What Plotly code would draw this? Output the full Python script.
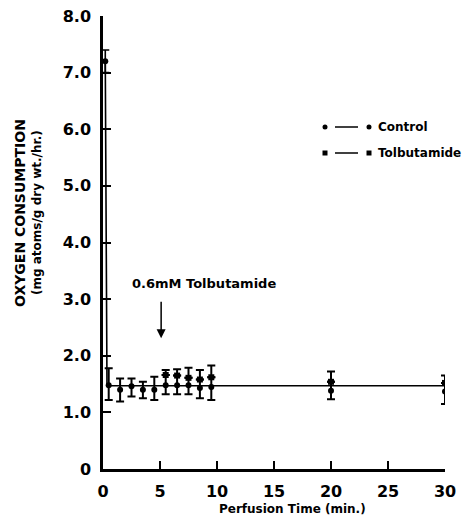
import plotly.graph_objects as go

# ---- data ----
time_min = [0.5, 1.5, 2.5, 3.5, 4.5, 5.5, 6.5, 7.5, 8.5, 9.5, 20, 30]
control = [1.48, 1.40, 1.46, 1.40, 1.40, 1.48, 1.48, 1.48, 1.43, 1.45, 1.38, 1.37]
control_err_up = [0.30, 0.20, 0.14, 0.14, 0.23, 0.18, 0.17, 0.13, 0.15, 0.17, 0.16, 0.15]
control_err_down = [0.26, 0.21, 0.18, 0.15, 0.18, 0.16, 0.16, 0.16, 0.18, 0.23, 0.15, 0.22]

tol_time = [5.5, 6.5, 7.5, 8.5, 9.5, 20, 30]
tolbutamide = [1.66, 1.65, 1.61, 1.58, 1.62, 1.54, 1.52]
tol_err_up = [0.09, 0.11, 0.18, 0.17, 0.21, 0.18, 0.13]

peak_time = [0.2]
peak_value = [7.2]
peak_err = [0.2]

mean_line_x = [0.2, 0.35, 30]
mean_line_y = [7.2, 1.47, 1.47]

x_ticks = [0, 5, 10, 15, 20, 25, 30]
y_ticks = [0, 1, 2, 3, 4, 5, 6, 7, 8]
y_tick_labels = ["0", "1.0", "2.0", "3.0", "4.0", "5.0", "6.0", "7.0", "8.0"]

FONT = "DejaVu Sans"
BLACK = "black"

# page body has an 8px margin; the figure is sized to fit inside the window
OFF = 8
W, H = 471 - 2 * OFF, 527 - 2 * OFF

fig = go.Figure()

fig.add_trace(go.Scatter(x=mean_line_x, y=mean_line_y, mode="lines",
                         line=dict(color=BLACK, width=1.6), hoverinfo="skip"))

fig.add_trace(go.Scatter(
    x=time_min, y=control, mode="markers",
    marker=dict(symbol="circle", size=6, color=BLACK),
    error_y=dict(type="data", array=control_err_up, arrayminus=control_err_down,
                 symmetric=False, color=BLACK, thickness=2, width=4),
))

fig.add_trace(go.Scatter(
    x=tol_time, y=tolbutamide, mode="markers",
    marker=dict(symbol="square", size=6, color=BLACK),
    error_y=dict(type="data", array=tol_err_up, arrayminus=[0] * len(tol_err_up),
                 symmetric=False, color=BLACK, thickness=2, width=4),
))

fig.add_trace(go.Scatter(
    x=peak_time, y=peak_value, mode="markers",
    marker=dict(symbol="circle", size=6, color=BLACK),
    error_y=dict(type="data", array=peak_err, color=BLACK, thickness=1.6, width=4),
))

# Plot area in window pixels
L, R, T, B = 103, 445, 16, 469
def px(x):
    return (x - L) / (R - L)
def py(y):
    return (B - y) / (B - T)

shapes = []
annotations = []
# legend rows
for row_y, sym, label in [(127, "circle", "Control"), (153, "square", "Tolbutamide")]:
    for mx in (325, 369):
        r = 2.5
        shapes.append(dict(type="circle" if sym == "circle" else "rect",
                           xref="paper", yref="paper",
                           x0=px(mx - r), x1=px(mx + r), y0=py(row_y + r), y1=py(row_y - r),
                           fillcolor=BLACK, line=dict(color=BLACK, width=0)))
    shapes.append(dict(type="line", xref="paper", yref="paper",
                       x0=px(335), x1=px(358), y0=py(row_y), y1=py(row_y),
                       line=dict(color=BLACK, width=1.5)))
    annotations.append(dict(x=px(376), y=py(row_y), xref="paper", yref="paper",
                            text="<b>%s</b>" % label, showarrow=False,
                            xanchor="left", yanchor="middle",
                            font=dict(family=FONT, size=12, color=BLACK)))

# arrow annotation
annotations.append(dict(x=5.1, y=2.31, ax=5.1, ay=2.98, xref="x", yref="y",
                        axref="x", ayref="y", text="", showarrow=True,
                        arrowhead=2, arrowsize=1.2, arrowwidth=1.5, arrowcolor=BLACK))
annotations.append(dict(x=8.9, y=3.28, xref="x", yref="y",
                        text="<b>0.6mM Tolbutamide</b>", showarrow=False,
                        font=dict(family=FONT, size=13, color=BLACK)))

# axis titles
annotations.append(dict(x=px(292), y=py(509), xref="paper", yref="paper",
                        text="<b>Perfusion Time (min.)</b>", showarrow=False,
                        yanchor="middle",
                        font=dict(family=FONT, size=12, color=BLACK)))
annotations.append(dict(x=px(20), y=py(213), xref="paper", yref="paper",
                        text="<b>OXYGEN CONSUMPTION</b>", showarrow=False, textangle=-90,
                        xanchor="center", yanchor="middle",
                        font=dict(family=FONT, size=14, color=BLACK)))
annotations.append(dict(x=px(37), y=py(213), xref="paper", yref="paper",
                        text="<b>(mg atoms/g dry wt./hr.)</b>", showarrow=False, textangle=-90,
                        xanchor="center", yanchor="middle",
                        font=dict(family=FONT, size=12, color=BLACK)))

fig.update_layout(
    width=W, height=H,
    margin=dict(l=L - OFF, r=(W + OFF) - R, t=T - OFF, b=(H + OFF) - B, autoexpand=False),
    paper_bgcolor="white", plot_bgcolor="white",
    showlegend=False,
    shapes=shapes, annotations=annotations,
    font=dict(family=FONT, color=BLACK),
    xaxis=dict(range=[0, 30], tickvals=x_ticks, ticktext=["<b>%s</b>" % v for v in x_ticks],
               ticks="inside", ticklen=8, tickwidth=2, tickcolor=BLACK,
               showline=True, linewidth=2.5, linecolor=BLACK, showgrid=False,
               zeroline=False, tickfont=dict(family=FONT, size=16, color=BLACK),
               ticklabelstandoff=6, ticklabeloverflow="allow", automargin=False),
    yaxis=dict(range=[0, 8], tickvals=y_ticks, ticktext=["<b>%s</b>" % t for t in y_tick_labels],
               ticks="inside", ticklen=8, tickwidth=2, tickcolor=BLACK,
               showline=True, linewidth=2.5, linecolor=BLACK, showgrid=False,
               zeroline=False, tickfont=dict(family=FONT, size=16, color=BLACK),
               ticklabelstandoff=6, ticklabeloverflow="allow", automargin=False),
)

fig.write_html("out.html")
